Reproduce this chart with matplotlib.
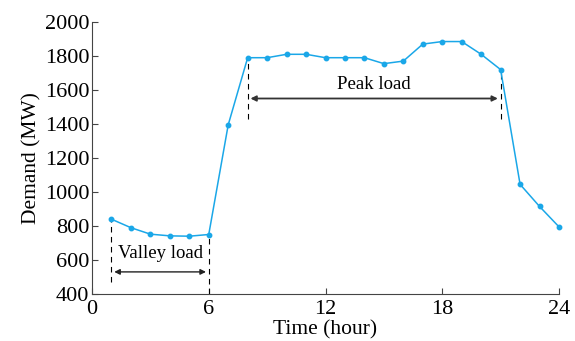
import matplotlib
matplotlib.use("Agg")
import matplotlib.pyplot as plt

# %% DATA
hours = list(range(1, 25))
demand = [840, 790, 752, 742, 740, 750, 1395, 1790, 1790, 1810, 1810, 1790,
          1790, 1790, 1755, 1770, 1870, 1885, 1885, 1810, 1720, 1045, 915, 795]
x_ticks = [0, 6, 12, 18, 24]
y_ticks = [400, 600, 800, 1000, 1200, 1400, 1600, 1800, 2000]

valley_start, valley_end = 1, 6
peak_start, peak_end = 8, 21

# %% PLOT
plt.rcParams['font.family'] = ['Liberation Serif', 'DejaVu Serif']
fig = plt.figure(figsize=(5.75, 3.41), dpi=100)
ax = fig.add_axes([92 / 575, 1 - 294 / 341, (559 - 92) / 575, (294 - 22) / 341])

ax.plot(hours, demand, color='#1aa7e8', lw=1.1, marker='o', ms=3.2, zorder=3, clip_on=False)

# valley load marker
d = dict(zip(hours, demand))
ax.plot([valley_start, valley_start], [470, d[valley_start]], ls=(0, (5, 4)), color='black', lw=0.8)
ax.plot([valley_end, valley_end], [400, d[valley_end]], ls=(0, (5, 4)), color='black', lw=0.8)
ax.annotate('', xy=(valley_start, 530), xytext=(valley_end, 530),
            arrowprops=dict(arrowstyle='<|-|>', color='#222222', lw=1.0, mutation_scale=8))
ax.text((valley_start + valley_end) / 2, 638, 'Valley load', ha='center', va='center', fontsize=13.5)

# peak load marker
ax.plot([peak_start, peak_start], [1430, d[peak_start]], ls=(0, (5, 4)), color='black', lw=0.8)
ax.plot([peak_end, peak_end], [1430, d[peak_end]], ls=(0, (5, 4)), color='black', lw=0.8)
ax.annotate('', xy=(peak_start, 1550), xytext=(peak_end, 1550),
            arrowprops=dict(arrowstyle='<|-|>', color='#333333', lw=1.3, mutation_scale=8))
ax.text((peak_start + peak_end) / 2, 1630, 'Peak load', ha='center', va='center', fontsize=13.5)

ax.set_xlim(0, 24)
ax.set_ylim(400, 2000)
ax.set_xticks(x_ticks)
ax.set_yticks(y_ticks)
ax.tick_params(direction='in', labelsize=16, color='#444444', length=4)
ax.tick_params(axis='x', pad=4)
ax.tick_params(axis='y', pad=2)
ax.spines['top'].set_visible(False)
ax.spines['right'].set_visible(False)
for s in ['left', 'bottom']:
    ax.spines[s].set_color('#444444')
ax.set_xlabel('Time (hour)', fontsize=15.5, labelpad=1)
ax.set_ylabel('Demand (MW)', fontsize=15.5, labelpad=2)

fig.savefig('out.png', dpi=100)
